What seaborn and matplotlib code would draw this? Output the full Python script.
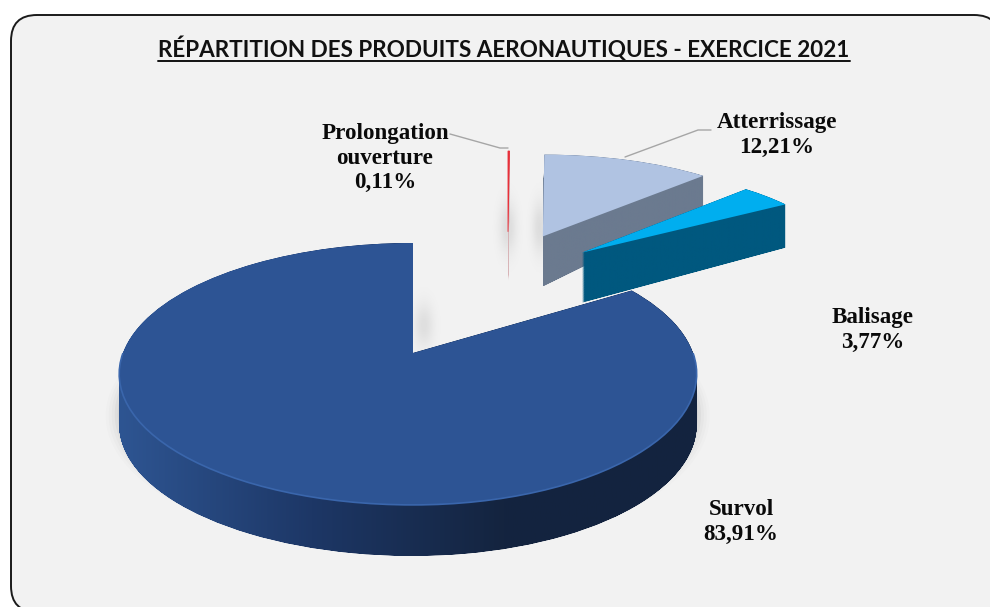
import numpy as np
import seaborn as sns
import matplotlib
matplotlib.use('Agg')
import matplotlib.pyplot as plt
from matplotlib.patches import FancyBboxPatch, PathPatch, Rectangle
from matplotlib.path import Path
from matplotlib.colors import LinearSegmentedColormap
from matplotlib.transforms import Transform

categories = ['Survol', 'Balisage', 'Atterrissage', 'Prolongation\nouverture']
shares = [83.91, 3.77, 12.21, 0.11]
title = 'RÉPARTITION DES PRODUITS AERONAUTIQUES - EXERCICE 2021'

top_colors = ['#2D5494', '#00AEEF', '#B0C3E2', '#E8303A']
wall_colors = [['#2E5592', '#1D3766', '#14243F', '#13233F'],
               ['#00587F', '#00587F'],
               ['#6B7A8F', '#6B7A8F'],
               ['#D8A8AC', '#D8D8D8']]
# slice moved in the plane of the pie, depth at tip and at rim
shifts = [(0, 0), (0.573, 0.9), (0.44, 1.07), (0.322, 1.12)]
drops = [(51, 51), (50, 42), (50, 24), (50, 50)]
x_scales = [(290, 280), (295, 295), (295, 295), (295, 295)]

CX, CY = 413, 353
KX, KY, PERSP = 295, 127.6, 0.16


class Tilt(Transform):
    # plane of the pie to picture pixels, with perspective
    input_dims = output_dims = 2

    def __init__(self, center=(0, 0), drop=0, taper=0, scale=(KX, KX)):
        super().__init__()
        self.center = center
        self.drop = drop
        self.taper = taper
        self.scale = scale

    def transform_non_affine(self, values):
        u, v = np.asarray(values).T
        w = 1 + PERSP * v
        local = u - self.center[0]
        down = self.drop - self.taper * np.clip(local, 0, 1)
        kx = np.where(local < 0, self.scale[0], self.scale[1])
        return np.column_stack([CX + KX * self.center[0] + kx * local / w,
                                CY - KY * v / w + down])


def soft_shadow(x0, x1, y0, y1, strength=0.09):
    # blurred grey patch for the cast shadows
    bump = np.exp(-np.linspace(-2, 2, 40) ** 2)
    rgba = np.zeros((40, 40, 4))
    rgba[..., 3] = strength * np.outer(bump, bump)
    ax.imshow(rgba, extent=(x0, x1, y1, y0), aspect='auto', zorder=1)


sns.set_theme(style='white')
fig = plt.figure(figsize=(9.9, 6.07), dpi=100, facecolor='white')
ax = fig.add_axes([0, 0, 1, 1])

wedges, _ = ax.pie(shares, startangle=90, colors=sns.color_palette(top_colors), radius=1)
ax.set_aspect('auto')
ax.set_xlim(0, 990)
ax.set_ylim(607, 0)
ax.axis('off')

panel = FancyBboxPatch((11, 15), 989, 597, boxstyle='round,pad=0,rounding_size=26',
                       fc='#F2F2F2', ec='#1A1A1A', lw=1.4, zorder=0)
ax.add_patch(panel)

soft_shadow(490, 526, 175, 280)
soft_shadow(524, 556, 175, 280)
soft_shadow(404, 444, 280, 370, 0.08)

# soft shadow under the big slice
sv = wedges[0]
cut = Rectangle((0, 0), 990, 533, transform=ax.transData)
for grow, alpha in zip([1.045, 1.035, 1.025, 1.015, 1.005], [0.012, 0.016, 0.02, 0.03, 0.04]):
    p = sv.get_path()
    pts = Tilt(drop=40, scale=x_scales[0]).transform_non_affine(p.vertices * grow)
    shadow = PathPatch(Path(pts, p.codes), fc='black', ec='none', alpha=alpha, zorder=1)
    ax.add_patch(shadow)
    shadow.set_clip_path(cut)

draw_order = [3, 2, 1, 0]
for z, i in enumerate(draw_order):
    w = wedges[i]
    w.set_center(shifts[i])
    path = w.get_path()
    base = 2 + z * 3
    d0, d1 = drops[i]
    layers = []
    for f in np.linspace(1, 0, 130):
        tilt = Tilt(shifts[i], d0 * f, (d0 - d1) * f, x_scales[i])
        layers.append(Path(tilt.transform_non_affine(path.vertices), path.codes))
    wall = Path.make_compound_path(*layers)
    cmap = LinearSegmentedColormap.from_list('wall', wall_colors[i])
    box = wall.get_extents()
    im = ax.imshow(np.linspace(0, 1, 256).reshape(1, -1), cmap=cmap, aspect='auto',
                   extent=(box.x0, box.x1, box.y1, box.y0), zorder=base)
    im.set_clip_path(wall, transform=ax.transData)

    w.set_transform(Tilt(shifts[i], scale=x_scales[i]) + ax.transData)
    w.set_edgecolor('none')
    w.set_zorder(base + 1)
    if i == 0:
        rim = PathPatch(Path.arc(180, 360), fc='none', ec='#3A66AC', lw=1.2,
                        transform=Tilt(scale=x_scales[0]) + ax.transData, zorder=base + 2)
        ax.add_patch(rim)
    if i == 3:
        w.set_edgecolor(top_colors[3])
        w.set_linewidth(0.6)
ax.set_xlim(0, 990)
ax.set_ylim(607, 0)


def share_text(v):
    return f'{v:.2f}%'.replace('.', ',')


serif = dict(family='Liberation Serif', fontweight='bold', fontsize=16.6, color='#0A0A0A',
             ha='center', va='center', zorder=20)
label_pos = [(741, 522), (873, 330), (777, 135), (385, 158)]
for name, v, (x, y) in zip(categories, shares, label_pos):
    ax.text(x, y, f'{name}\n{share_text(v)}', linespacing=1.22, **serif)

ax.plot([450, 500, 508], [134, 148, 148], color='#A6A6A6', lw=1, zorder=9)
ax.plot([711, 698, 625], [130, 130, 157], color='#A6A6A6', lw=1, zorder=9)

head = ax.text(504, 49, title, family='Lato', fontweight='bold', fontsize=16.2,
               color='#111111', ha='center', va='center', zorder=20)
fig.canvas.draw()
bb = head.get_window_extent().transformed(ax.transData.inverted())
ax.plot([bb.x0, bb.x1], [60.5, 60.5], color='#111111', lw=1.4, zorder=20)
ax.set_xlim(0, 990)
ax.set_ylim(607, 0)

fig.savefig('out.png', dpi=100)
